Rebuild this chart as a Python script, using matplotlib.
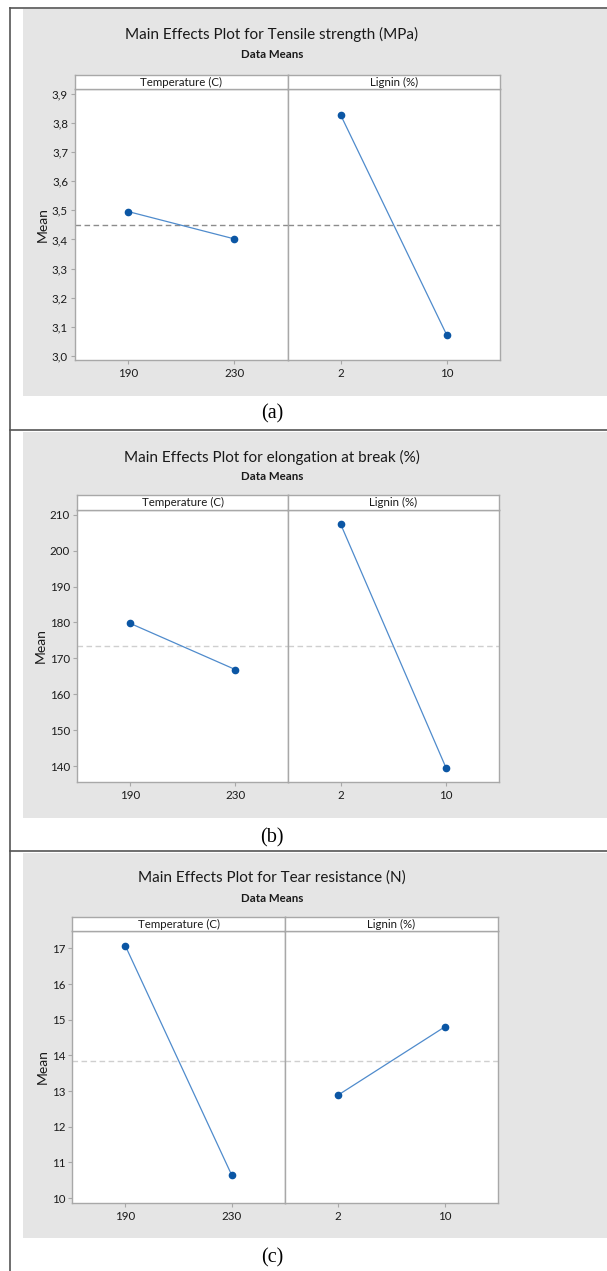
import matplotlib
matplotlib.use("Agg")
import matplotlib.pyplot as plt
from matplotlib.patches import Rectangle
from matplotlib.lines import Line2D

# 図のサイズ（ピクセル）
W, H = 607, 1271

# 水準
temp_levels = ["190", "230"]
lignin_levels = ["2", "10"]

# (a) 引張強さ
tensile_temp = [3.496, 3.402]
tensile_lignin = [3.828, 3.071]
tensile_mean = 3.449
tensile_ticks = [3.0, 3.1, 3.2, 3.3, 3.4, 3.5, 3.6, 3.7, 3.8, 3.9]
tensile_ticklabels = ["3,0", "3,1", "3,2", "3,3", "3,4", "3,5", "3,6", "3,7", "3,8", "3,9"]

# (b) 破断伸び
elong_temp = [179.8, 166.9]
elong_lignin = [207.3, 139.4]
elong_mean = 173.4
elong_ticks = [140, 150, 160, 170, 180, 190, 200, 210]

# (c) 引裂抵抗
tear_temp = [17.08, 10.64]
tear_lignin = [12.89, 14.80]
tear_mean = 13.85
tear_ticks = [10, 11, 12, 13, 14, 15, 16, 17]

FONT = ["Lato", "DejaVu Sans"]
LINE_C = "#4f8bcc"
MARK_C = "#0b56a4"
FRAME_C = "#a8a8a8"
TEXT_C = "#1a1a1a"
TEXT_X = 272  # タイトルとキャプションの中心


def box(l, t, r, b):
    return [l / W, 1 - b / H, (r - l) / W, (b - t) / H]


def panel(fig, title, caption, temp, lignin, mean, ylim, ticks, ticklabels,
          gray, plot, caption_y, mean_color):
    # 灰色の背景
    gl, gt, gr, gb = gray
    fig.add_artist(Rectangle((gl / W, 1 - gb / H), (gr - gl) / W, (gb - gt) / H,
                             transform=fig.transFigure, facecolor="#e5e5e5",
                             edgecolor="none", zorder=0))
    fig.text(TEXT_X / W, 1 - (gt + 25) / H, title, ha="center", va="center",
             fontsize=11, family=FONT, color=TEXT_C)
    fig.text(TEXT_X / W, 1 - (gt + 45) / H, "Data Means", ha="center", va="center",
             fontsize=8.3, family=FONT, color=TEXT_C, fontweight="bold")

    left, top, strip_b, right, bottom = plot
    mid = (left + right) / 2
    for i, (vals, labels, name) in enumerate([(temp, temp_levels, "Temperature (C)"),
                                               (lignin, lignin_levels, "Lignin (%)")]):
        l = left if i == 0 else mid
        r = mid if i == 0 else right
        ax = fig.add_axes(box(l, strip_b, r, bottom))
        ax.set_facecolor("white")
        ax.plot([0, 1], vals, color=LINE_C, lw=0.9, zorder=3)
        ax.plot([0, 1], vals, "o", color=MARK_C, ms=4.5, zorder=4)
        ax.axhline(mean, color=mean_color, lw=1.0, ls=(0, (4, 2.5)), zorder=2)
        ax.set_xlim(-0.5, 1.5)
        ax.set_ylim(*ylim)
        ax.set_xticks([0, 1])
        ax.set_xticklabels(labels, family=FONT, fontsize=8.3, color=TEXT_C)
        ax.tick_params(axis="x", length=3, color=FRAME_C, pad=3)
        for s in ax.spines.values():
            s.set_color(FRAME_C)
            s.set_linewidth(1.0)
        if i == 0:
            ax.set_yticks(ticks)
            ax.set_yticklabels(ticklabels, family=FONT, fontsize=8.3, color=TEXT_C)
            ax.tick_params(axis="y", length=3, color=FRAME_C, pad=2)
            ax.set_ylabel("Mean", family=FONT, fontsize=10, labelpad=2, color=TEXT_C)
        else:
            ax.set_yticks([])

        # 見出し帯
        sx = fig.add_axes(box(l, top, r, strip_b))
        sx.set_facecolor("white")
        sx.set_xticks([])
        sx.set_yticks([])
        for s in sx.spines.values():
            s.set_color(FRAME_C)
            s.set_linewidth(1.0)
        sx.text(0.5, 0.5, name, ha="center", va="center", fontsize=8.3,
                family=FONT, color=TEXT_C, transform=sx.transAxes)

    fig.text(TEXT_X / W, 1 - caption_y / H, caption, ha="center",
             va="center", fontsize=14.5, family="Liberation Serif")


fig = plt.figure(figsize=(W / 100, H / 100), dpi=100)

panel(fig, "Main Effects Plot for Tensile strength (MPa)", "(a)",
      tensile_temp, tensile_lignin, tensile_mean, (2.986, 3.917),
      tensile_ticks, tensile_ticklabels,
      (23, 9, 607, 396), (75, 75, 89, 500, 360), 414, "#8c8c8c")

panel(fig, "Main Effects Plot for elongation at break (%)", "(b)",
      elong_temp, elong_lignin, elong_mean, (135.6, 211.3),
      elong_ticks, [str(t) for t in elong_ticks],
      (23, 432, 607, 818), (77, 495, 510, 499, 782), 838, "#cfcfcf")

panel(fig, "Main Effects Plot for Tear resistance (N)", "(c)",
      tear_temp, tear_lignin, tear_mean, (9.86, 17.49),
      tear_ticks, [str(t) for t in tear_ticks],
      (23, 853, 607, 1238), (72, 917, 931, 498, 1203), 1258, "#cfcfcf")

# ページの枠線
for y in [8, 430, 851]:
    fig.add_artist(Line2D([10 / W, 1], [1 - y / H, 1 - y / H], color="#555555",
                          lw=1.2, transform=fig.transFigure))
fig.add_artist(Line2D([10 / W, 10 / W], [1 - 8 / H, 0], color="#555555",
                      lw=1.2, transform=fig.transFigure))

fig.savefig("out.png", dpi=100)
